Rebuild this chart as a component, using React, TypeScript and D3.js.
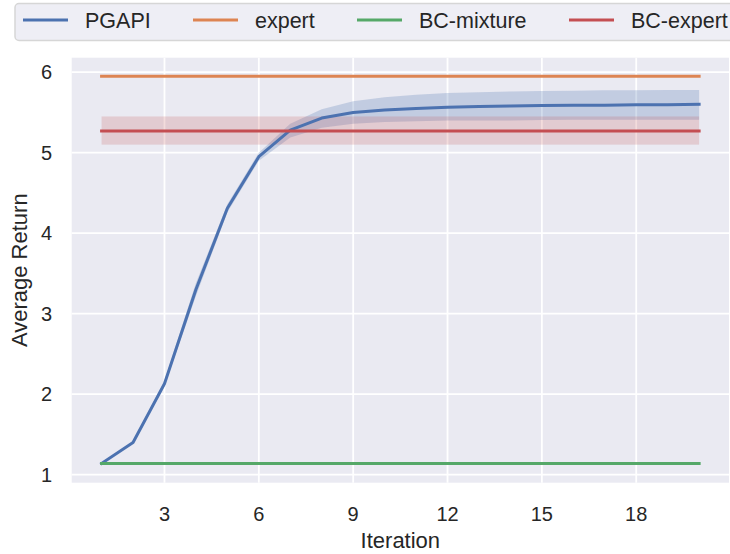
import React from 'react';
import * as d3 from 'd3';

// iterations 1..20
const iterations = [1, 2, 3, 4, 5, 6, 7, 8, 9, 10, 11, 12, 13, 14, 15, 16, 17, 18, 19, 20];
const pgapiMean = [1.14, 1.40, 2.13, 3.30, 4.31, 4.95, 5.28, 5.43, 5.50, 5.53, 5.55, 5.565, 5.575, 5.58, 5.585, 5.59, 5.59, 5.595, 5.595, 5.60];
const pgapiUpper = [1.15, 1.41, 2.17, 3.38, 4.36, 5.00, 5.36, 5.54, 5.64, 5.69, 5.72, 5.74, 5.75, 5.76, 5.765, 5.77, 5.775, 5.775, 5.78, 5.78];
const pgapiLower = [1.13, 1.39, 2.10, 3.22, 4.26, 4.90, 5.19, 5.31, 5.36, 5.38, 5.39, 5.40, 5.40, 5.40, 5.405, 5.41, 5.41, 5.41, 5.41, 5.41];
const expertValue = 5.95;
const bcMixtureValue = 1.137;
const bcExpertValue = 5.27;
const bcExpertBand = [5.10, 5.45];

const xTicks = [3, 6, 9, 12, 15, 18];
const yTicks = [1, 2, 3, 4, 5, 6];

const legendItems = [
    { label: 'PGAPI', color: '#4c72b0' },
    { label: 'expert', color: '#dd8452' },
    { label: 'BC-mixture', color: '#55a868' },
    { label: 'BC-expert', color: '#c44e52' },
];

const W = 730;
const H = 554;
const font = '"Liberation Sans", Arial, sans-serif';

export default function App() {
    const x = d3.scaleLinear().domain([0.05, 20.95]).range([71.7, 729]);
    const y = d3.scaleLinear().domain([0.9, 6.18]).range([482.7, 57.7]);

    const line = d3.line<number>()
        .x((_, i) => x(iterations[i]))
        .y(d => y(d));

    const band = d3.area<number>()
        .x((_, i) => x(iterations[i]))
        .y0((_, i) => y(pgapiLower[i]))
        .y1(d => y(d));

    const x0 = x(iterations[0]);
    const x1 = x(iterations[iterations.length - 1]);

    const flat = (v: number) => `M${x0},${y(v)}H${x1}`;

    // legend positions (line start)
    const legendX = [23, 193, 357, 569];

    return (
        <svg width={W} height={H} style={{ position: 'absolute', left: 0, top: 0, background: '#fff' }} fontFamily={font}>
            {/* axes background */}
            <rect x={x.range()[0]} y={y.range()[1]} width={x.range()[1] - x.range()[0]} height={y.range()[0] - y.range()[1]} fill="#eaeaf2" />

            {/* grid */}
            {xTicks.map(t => (
                <line key={'gx' + t} x1={x(t)} x2={x(t)} y1={y.range()[1]} y2={y.range()[0]} stroke="#fff" strokeWidth={1.8} />
            ))}
            {yTicks.map(t => (
                <line key={'gy' + t} x1={x.range()[0]} x2={x.range()[1]} y1={y(t)} y2={y(t)} stroke="#fff" strokeWidth={1.8} />
            ))}

            {/* bands */}
            <path d={band(pgapiUpper) || ''} fill="#4c72b0" fillOpacity={0.25} />
            <rect x={x0} width={x1 - x0} y={y(bcExpertBand[1])} height={y(bcExpertBand[0]) - y(bcExpertBand[1])} fill="#c44e52" fillOpacity={0.2} />

            {/* lines */}
            <path d={line(pgapiMean) || ''} fill="none" stroke="#4c72b0" strokeWidth={3} strokeLinecap="square" strokeLinejoin="round" />
            <path d={flat(expertValue)} stroke="#dd8452" strokeWidth={3} strokeLinecap="square" />
            <path d={flat(bcMixtureValue)} stroke="#55a868" strokeWidth={3} strokeLinecap="square" />
            <path d={flat(bcExpertValue)} stroke="#c44e52" strokeWidth={3} strokeLinecap="square" />

            {/* tick labels */}
            {xTicks.map(t => (
                <text key={'tx' + t} x={x(t)} y={521} textAnchor="middle" fontSize={20} fill="#262626">{t}</text>
            ))}
            {yTicks.map(t => (
                <text key={'ty' + t} x={52} y={y(t) + 7} textAnchor="end" fontSize={20} fill="#262626">{t}</text>
            ))}

            {/* axis labels */}
            <text x={(x.range()[0] + x.range()[1]) / 2} y={548} textAnchor="middle" fontSize={22} fill="#262626">Iteration</text>
            <text transform={`translate(27,${(y.range()[0] + y.range()[1]) / 2}) rotate(-90)`} textAnchor="middle" fontSize={22} fill="#262626">Average Return</text>

            {/* legend */}
            <rect x={15} y={3.5} width={740} height={37} rx={4} fill="#eeeef5" stroke="#d6d6d6" strokeWidth={1.5} />
            {legendItems.map((d, i) => (
                <g key={d.label}>
                    <line x1={legendX[i]} x2={legendX[i] + 45} y1={20} y2={20} stroke={d.color} strokeWidth={3} />
                    <text x={legendX[i] + 62} y={28} fontSize={21.5} fill="#262626">{d.label}</text>
                </g>
            ))}
        </svg>
    );
}
